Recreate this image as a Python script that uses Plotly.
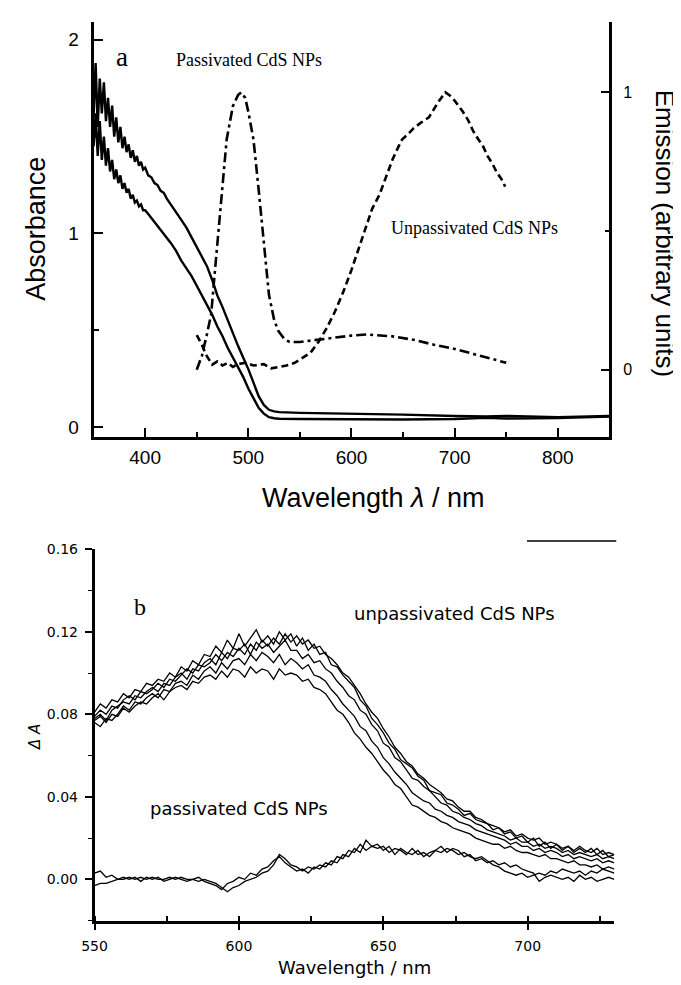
import plotly.graph_objects as go

# The page body has an 8px margin, so the figure is drawn 8px in from the window's corner.
OFF = 8
W, H = 681 - OFF, 985 - OFF

# ---------------- Panel a: absorbance (left axis) ----------------
abs_nm = [350, 352, 354, 356, 358, 360, 362, 364, 366, 368, 370, 372, 374, 376, 378, 380,
          382, 384, 386, 388, 390, 392, 394, 396, 398, 400,
          403, 406, 409, 412, 415, 418, 421,
          425, 430, 435, 440, 445, 450, 455, 460, 465, 470, 475, 480, 485, 490, 495, 500,
          505, 510, 515, 520, 525, 530,
          550, 600, 650, 700, 730, 750, 800, 850]
abs_upper = [1.60, 1.88, 1.55, 1.80, 1.62, 1.78, 1.58, 1.70, 1.55, 1.66, 1.50, 1.60, 1.47, 1.55, 1.44, 1.50,
             1.42, 1.46, 1.39, 1.43, 1.37, 1.40, 1.35, 1.37, 1.33, 1.34,
             1.30, 1.29, 1.26, 1.25, 1.22, 1.21, 1.18,
             1.15, 1.11, 1.07, 1.03, 0.98, 0.93, 0.88, 0.83, 0.76, 0.68, 0.62, 0.55, 0.49, 0.42, 0.36, 0.30,
             0.23, 0.16, 0.115, 0.09, 0.082, 0.078,
             0.074, 0.070, 0.065, 0.058, 0.055, 0.058, 0.052, 0.058]
abs_lower = [1.45, 1.62, 1.40, 1.58, 1.38, 1.50, 1.35, 1.44, 1.32, 1.38, 1.28, 1.33, 1.26, 1.30, 1.23, 1.26,
             1.21, 1.23, 1.18, 1.20, 1.16, 1.17, 1.14, 1.15, 1.12, 1.12,
             1.10, 1.08, 1.06, 1.04, 1.02, 1.00, 0.98,
             0.95, 0.91, 0.86, 0.82, 0.78, 0.73, 0.68, 0.63, 0.58, 0.52, 0.47, 0.41, 0.36, 0.31, 0.26, 0.20,
             0.15, 0.10, 0.07, 0.052, 0.046, 0.044,
             0.042, 0.040, 0.040, 0.042, 0.048, 0.045, 0.047, 0.055]

# ---------------- Panel a: emission (right axis) ----------------
em_pass_nm = [450, 455, 460, 464, 467, 470, 475, 479, 485, 490, 493, 497, 500, 505, 510, 515, 520, 525,
              529, 535, 540, 550, 560, 567, 580, 600, 615, 624, 640, 660, 680, 700, 720, 740, 750]
em_pass = [0.0, 0.05, 0.13, 0.20, 0.33, 0.45, 0.65, 0.83, 0.95, 0.99, 1.0, 0.98, 0.93, 0.83, 0.65, 0.45, 0.27, 0.18,
           0.14, 0.11, 0.10, 0.10, 0.105, 0.107, 0.115, 0.123, 0.127, 0.125, 0.12, 0.108, 0.09, 0.075, 0.055, 0.035, 0.025]

em_unpass_nm = [450, 455, 459, 465, 470, 475, 480, 485, 490, 497, 505, 515, 522, 529, 537, 545, 552, 560, 568, 576,
                584, 592, 600, 607, 614, 620, 627, 633, 640, 645, 649, 655, 660, 667, 675, 680, 685, 691, 695, 700,
                704, 708, 713, 718, 723, 727, 732, 737, 741, 745, 749]
em_unpass = [0.125, 0.09, 0.054, 0.018, 0.03, 0.015, 0.025, 0.01, 0.02, 0.025, 0.015, 0.02, 0.005, 0.01, 0.015,
             0.025, 0.04, 0.06, 0.10, 0.15, 0.21, 0.28, 0.36, 0.44, 0.52, 0.58, 0.63, 0.69, 0.76, 0.80,
             0.83, 0.85, 0.87, 0.89, 0.91, 0.94, 0.97, 1.0, 0.99, 0.97, 0.95, 0.93, 0.90, 0.86, 0.83,
             0.81, 0.77, 0.74, 0.71, 0.69, 0.66]

# ---------------- Panel b: transient absorption ----------------
ta_nm = list(range(550, 731, 2))
ta_unpass_1 = [0.081, 0.085, 0.083, 0.087, 0.086, 0.090, 0.088, 0.092, 0.091, 0.095,
               0.094, 0.097, 0.096, 0.100, 0.098, 0.103, 0.101, 0.106, 0.104, 0.109,
               0.108, 0.113, 0.110, 0.116, 0.112, 0.119, 0.113, 0.117, 0.121, 0.115,
               0.118, 0.114, 0.120, 0.116, 0.119, 0.113, 0.117, 0.111, 0.114, 0.109,
               0.110, 0.104, 0.103, 0.099, 0.096, 0.093, 0.087, 0.084, 0.078, 0.075,
               0.071, 0.066, 0.063, 0.058, 0.056, 0.054, 0.050, 0.048, 0.043, 0.042,
               0.041, 0.037, 0.036, 0.034, 0.031, 0.032, 0.029, 0.028, 0.027, 0.024,
               0.025, 0.022, 0.023, 0.020, 0.021, 0.018, 0.020, 0.016, 0.018, 0.015,
               0.017, 0.014, 0.016, 0.013, 0.015, 0.013, 0.015, 0.012, 0.014, 0.011, 0.012]
ta_unpass_2 = [0.078, 0.080, 0.077, 0.082, 0.084, 0.086, 0.085, 0.089, 0.088, 0.091,
               0.093, 0.091, 0.095, 0.094, 0.098, 0.100, 0.097, 0.102, 0.101, 0.105,
               0.107, 0.104, 0.110, 0.107, 0.112, 0.111, 0.114, 0.109, 0.115, 0.112,
               0.114, 0.110, 0.113, 0.116, 0.111, 0.111, 0.107, 0.109, 0.105, 0.106,
               0.102, 0.100, 0.096, 0.093, 0.089, 0.087, 0.082, 0.080, 0.075, 0.072,
               0.066, 0.064, 0.059, 0.057, 0.053, 0.049, 0.048, 0.045, 0.043, 0.040,
               0.037, 0.036, 0.033, 0.032, 0.030, 0.029, 0.027, 0.026, 0.024, 0.023,
               0.022, 0.021, 0.019, 0.020, 0.018, 0.018, 0.016, 0.017, 0.015, 0.016,
               0.015, 0.013, 0.014, 0.012, 0.013, 0.012, 0.011, 0.012, 0.010, 0.011, 0.010]
ta_unpass_3 = [0.076, 0.074, 0.078, 0.077, 0.080, 0.084, 0.082, 0.086, 0.085, 0.088,
               0.090, 0.088, 0.092, 0.091, 0.095, 0.096, 0.094, 0.099, 0.097, 0.101,
               0.103, 0.100, 0.105, 0.102, 0.106, 0.107, 0.104, 0.109, 0.106, 0.110,
               0.108, 0.105, 0.109, 0.104, 0.107, 0.105, 0.102, 0.104, 0.099, 0.098,
               0.096, 0.092, 0.089, 0.085, 0.082, 0.079, 0.074, 0.072, 0.067, 0.064,
               0.059, 0.056, 0.052, 0.049, 0.046, 0.042, 0.040, 0.038, 0.037, 0.034,
               0.033, 0.031, 0.030, 0.028, 0.027, 0.026, 0.024, 0.023, 0.022, 0.021,
               0.020, 0.019, 0.017, 0.018, 0.016, 0.016, 0.014, 0.015, 0.013, 0.014,
               0.013, 0.011, 0.012, 0.010, 0.011, 0.010, 0.009, 0.010, 0.008, 0.009, 0.008]
ta_unpass_4 = [0.077, 0.079, 0.076, 0.080, 0.079, 0.083, 0.081, 0.084, 0.086, 0.085,
               0.088, 0.090, 0.087, 0.091, 0.093, 0.094, 0.092, 0.096, 0.095, 0.098,
               0.099, 0.097, 0.101, 0.098, 0.102, 0.101, 0.098, 0.103, 0.100, 0.102,
               0.101, 0.097, 0.102, 0.099, 0.100, 0.099, 0.096, 0.097, 0.093, 0.092,
               0.090, 0.086, 0.082, 0.080, 0.076, 0.071, 0.068, 0.064, 0.061, 0.057,
               0.053, 0.050, 0.046, 0.044, 0.040, 0.036, 0.035, 0.033, 0.031, 0.030,
               0.028, 0.027, 0.025, 0.024, 0.023, 0.022, 0.020, 0.019, 0.018, 0.017,
               0.017, 0.015, 0.016, 0.014, 0.013, 0.013, 0.012, 0.011, 0.012, 0.010,
               0.010, 0.009, 0.008, 0.009, 0.007, 0.007, 0.006, 0.007, 0.005, 0.006, 0.005]
ta_unpass_5 = [0.079, 0.082, 0.080, 0.084, 0.083, 0.087, 0.089, 0.087, 0.091, 0.090,
               0.092, 0.095, 0.093, 0.097, 0.096, 0.099, 0.102, 0.100, 0.104, 0.103,
               0.105, 0.109, 0.106, 0.110, 0.108, 0.112, 0.109, 0.114, 0.111, 0.116,
               0.113, 0.117, 0.114, 0.119, 0.115, 0.118, 0.114, 0.116, 0.112, 0.113,
               0.109, 0.107, 0.104, 0.100, 0.098, 0.094, 0.090, 0.085, 0.081, 0.078,
               0.073, 0.069, 0.064, 0.061, 0.057, 0.055, 0.051, 0.049, 0.046, 0.044,
               0.042, 0.039, 0.038, 0.035, 0.033, 0.033, 0.030, 0.029, 0.027, 0.026,
               0.025, 0.023, 0.024, 0.021, 0.022, 0.020, 0.019, 0.020, 0.017, 0.018,
               0.017, 0.015, 0.016, 0.014, 0.016, 0.014, 0.013, 0.015, 0.012, 0.013, 0.012]
ta_pass_1 = [0.003, 0.004, 0.001, 0.002, 0.000, 0.001, 0.000, 0.001, -0.001, 0.001,
             0.000, 0.001, -0.001, 0.000, 0.001, 0.000, -0.001, 0.000, 0.001, -0.001,
             -0.002, -0.003, -0.005, -0.002, -0.001, 0.001, 0.000, 0.003, 0.002, 0.005,
             0.006, 0.009, 0.011, 0.008, 0.006, 0.004, 0.005, 0.003, 0.006, 0.005,
             0.008, 0.007, 0.011, 0.010, 0.014, 0.013, 0.017, 0.014, 0.016, 0.015,
             0.016, 0.013, 0.015, 0.014, 0.012, 0.015, 0.012, 0.013, 0.011, 0.014,
             0.013, 0.015, 0.014, 0.012, 0.013, 0.011, 0.010, 0.011, 0.009, 0.007,
             0.006, 0.004, 0.003, 0.002, 0.003, 0.001, 0.002, 0.003, 0.002, 0.004,
             0.003, 0.005, 0.004, 0.003, 0.004, 0.002, 0.004, 0.003, 0.005, 0.004, 0.003]
ta_pass_2 = [-0.003, -0.002, -0.002, -0.001, 0.000, 0.000, 0.001, 0.000, 0.001, 0.000,
             0.001, 0.000, 0.000, 0.001, 0.000, 0.001, 0.000, 0.000, -0.001, 0.000,
             -0.001, -0.002, -0.004, -0.006, -0.004, -0.003, -0.001, 0.000, 0.001, 0.003,
             0.004, 0.007, 0.012, 0.010, 0.007, 0.006, 0.004, 0.006, 0.005, 0.007,
             0.006, 0.009, 0.008, 0.012, 0.011, 0.015, 0.013, 0.019, 0.016, 0.017,
             0.014, 0.016, 0.012, 0.015, 0.013, 0.012, 0.014, 0.011, 0.013, 0.014,
             0.016, 0.013, 0.015, 0.014, 0.011, 0.012, 0.009, 0.010, 0.008, 0.009,
             0.007, 0.008, 0.006, 0.007, 0.005, 0.004, 0.003, -0.001, 0.001, 0.002,
             0.001, 0.000, 0.001, -0.001, 0.002, 0.000, 0.001, -0.001, 0.000, 0.001, 0.000]

SANS = "Liberation Sans, Arial, sans-serif"
SERIF = "Liberation Serif, Times New Roman, serif"
WIDE = "DejaVu Sans, Verdana, sans-serif"

fig = go.Figure()

for ys in (abs_upper, abs_lower):
    fig.add_trace(go.Scatter(x=abs_nm, y=ys, mode="lines", xaxis="x", yaxis="y",
                             line=dict(color="black", width=2.4)))

fig.add_trace(go.Scatter(x=em_pass_nm, y=em_pass, mode="lines", xaxis="x", yaxis="y2",
                         line=dict(color="black", width=2.6, dash="10px,4px,3px,4px")))
fig.add_trace(go.Scatter(x=em_unpass_nm, y=em_unpass, mode="lines", xaxis="x", yaxis="y2",
                         line=dict(color="black", width=2.6, dash="7px,4px")))

for ys in (ta_unpass_1, ta_unpass_2, ta_unpass_3, ta_unpass_4, ta_unpass_5, ta_pass_1, ta_pass_2):
    fig.add_trace(go.Scatter(x=ta_nm, y=ys, mode="lines", xaxis="x2", yaxis="y3",
                             line=dict(color="black", width=1.3)))


def px(x, y):
    """Window pixel (reference picture coordinates) -> paper coordinates."""
    return (x - OFF) / W, 1 - (y - OFF) / H


def span_x(a, b):
    return [px(a, 0)[0], px(b, 0)[0]]


def span_y(top, bottom):
    return [px(0, bottom)[1], px(0, top)[1]]


top_x = span_x(82, 608)
top_y = span_y(14, 433)
bot_x = span_x(83, 613)
bot_y = span_y(546, 921)

common = dict(showgrid=False, zeroline=False, color="black", linecolor="black",
              tickcolor="black")

fig.update_layout(
    width=W, height=H,
    margin=dict(l=0, r=0, t=0, b=0),
    paper_bgcolor="white", plot_bgcolor="white",
    showlegend=False,
    xaxis=dict(domain=top_x, anchor="y", range=[350, 850], showline=True, linewidth=2.5,
               ticks="inside", ticklen=9, tickwidth=2, dtick=100, tick0=0,
               minor=dict(ticks="inside", ticklen=5, tickwidth=1.5, dtick=50, tick0=0, tickcolor="black"),
               tickfont=dict(family=SANS, size=19, color="black"), ticklabelstandoff=1, **common),
    xaxis4=dict(overlaying="x", anchor="y", side="top", range=[350, 850], showline=True,
                linewidth=1.5, ticks="", showticklabels=False, **common),
    yaxis=dict(domain=top_y, anchor="x", range=[-0.051, 2.092], showline=True, linewidth=3,
               ticks="inside", ticklen=9, tickwidth=2, dtick=1, tick0=0,
               minor=dict(ticks="inside", ticklen=5, tickwidth=1.5, dtick=0.5, tick0=0, tickcolor="black"),
               tickfont=dict(family=SANS, size=19, color="black"), ticklabelstandoff=8, **common),
    yaxis2=dict(overlaying="y", anchor="x", side="right", range=[-0.243, 1.254], showline=True,
                linewidth=2.5, ticks="inside", ticklen=9, tickwidth=2, dtick=1, tick0=0,
                minor=dict(ticks="inside", ticklen=5, tickwidth=1.5, dtick=0.5, tick0=0, tickcolor="black"),
                tickfont=dict(family=SANS, size=16, color="black"), ticklabelstandoff=8, **common),
    xaxis2=dict(domain=bot_x, anchor="y3", range=[550, 730], showline=True, linewidth=2.5,
                ticks="outside", ticklen=7, tickwidth=1.5, dtick=50, tick0=0,
                minor=dict(ticks="inside", ticklen=5, tickwidth=1.5, dtick=25, tick0=0, tickcolor="black"),
                tickfont=dict(family=WIDE, size=14, color="black"), ticklabelstandoff=4, **common),
    xaxis3=dict(overlaying="x2", anchor="y3", side="top", range=[550, 730], showline=True,
                linewidth=1.8, ticks="inside", ticklen=6, tickwidth=1.5, dtick=25, tick0=0,
                showticklabels=False, **common),
    yaxis3=dict(domain=bot_y, anchor="x2", range=[-0.02, 0.1601], showline=True, linewidth=2.5,
                ticks="outside", ticklen=7, tickwidth=1.5, dtick=0.04, tick0=0, tickformat=".2f",
                minor=dict(ticks="outside", ticklen=4, tickwidth=1.2, dtick=0.02, tick0=0, tickcolor="black"),
                tickfont=dict(family=WIDE, size=14, color="black"), ticklabelstandoff=4, **common),
    yaxis4=dict(overlaying="y3", anchor="x2", side="right", range=[-0.02, 0.1601], showline=True,
                linewidth=2, ticks="inside", ticklen=6, tickwidth=1.5, dtick=0.02, tick0=0,
                showticklabels=False, **common),
)

annotations = []


def note(text, x, y, family, size, angle=0, italic=False):
    xp, yp = px(x, y)
    annotations.append(dict(text=text, x=xp, y=yp, xref="paper", yref="paper", showarrow=False,
                            xanchor="center", yanchor="middle", textangle=angle,
                            font=dict(family=family, size=size, color="black",
                                      style="italic" if italic else "normal")))


note("Absorbance", 23, 223, SANS, 27, angle=-90)
note("Emission (arbitrary units)", 665, 228, SANS, 26, angle=90)
note("Wavelength <i>λ</i> / nm", 367, 494, SANS, 27)
note("a", 111, 49, SERIF, 27)
note("Passivated CdS NPs", 240, 52, SERIF, 18)
note("Unpassivated CdS NPs", 470, 222, SERIF, 18)
note("b", 129, 604, SERIF, 24)
note("unpassivated CdS NPs", 450, 611, WIDE, 18)
note("passivated CdS NPs", 230, 808, WIDE, 18)
note("<i>Δ A</i>", 23, 736, WIDE, 15, angle=-90)
note("Wavelength / nm", 348, 968, WIDE, 18)

fig.update_layout(annotations=annotations)

x0, y0 = px(524, 538)
x1, _ = px(615, 538)
fig.add_shape(type="line", xref="paper", yref="paper", x0=x0, x1=x1, y0=y0, y1=y0,
              line=dict(color="black", width=1.5))

fig.write_html("out.html")
